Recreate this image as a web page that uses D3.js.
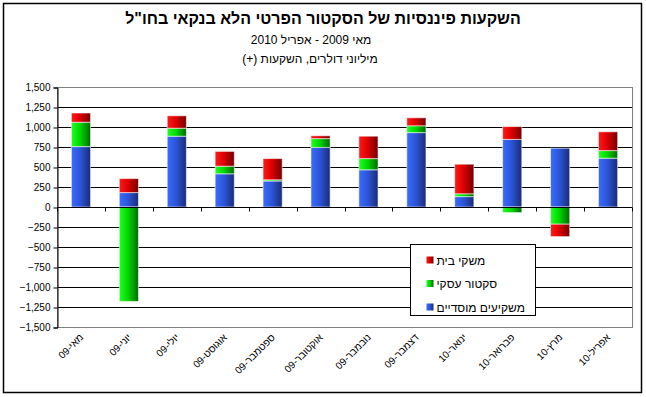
<!DOCTYPE html>
<html>
<head>
<meta charset="utf-8">
<script src="https://cdn.jsdelivr.net/npm/d3@7"></script>
<style>
  body { margin: 0; background: #fff; }
  svg { display: block; font-family: Arial, "Liberation Sans", "DejaVu Sans", sans-serif; }
</style>
</head>
<body>
<svg id="chart" width="646" height="397"></svg>
<script>
// Hebrew month labels, as on the chart's category axis
const MONTHS = ['מאי-09', 'יוני-09', 'יולי-09', 'אוגוסט-09', 'ספטמבר-09', 'אוקטובר-09',
                'נובמבר-09', 'דצמבר-09', 'ינואר-10', 'פברואר-10', 'מרץ-10', 'אפריל-10'];

// series, millions of dollars
const INSTITUTIONAL = [755, 180, 885, 415, 325, 745, 465, 930, 130, 845, 735, 610];
const BUSINESS      = [305, -1180, 100, 95, 15, 110, 140, 85, 35, -70, -215, 95];
const HOUSEHOLDS    = [115, 175, 155, 185, 265, 35, 280, 100, 370, 160, -155, 235];

const SERIES_KEYS = ['inst', 'biz', 'home'];
const SERIES_LABELS = { inst: 'משקיעים מוסדיים', biz: 'סקטור עסקי', home: 'משקי בית' };
const Y_TICKS = [-1500, -1250, -1000, -750, -500, -250, 0, 250, 500, 750, 1000, 1250, 1500];

const GRADS = {
  inst: ['#3a6cff', '#2c55d8', '#1a2c78'],
  biz:  ['#22ff22', '#00d800', '#006a00'],
  home: ['#ff1a1a', '#dd0000', '#740000'],
};

const svg = d3.select('#chart');
const plot = { left: 57, right: 632, top: 87, bottom: 327 };

// outer frame
svg.append('rect')
  .attr('x', 3.5).attr('y', 3.5).attr('width', 638).attr('height', 389)
  .attr('fill', '#fff').attr('stroke', '#000').attr('stroke-width', 1.5);

// titles (right-to-left reading order, like the source)
svg.append('text').attr('x', 323).attr('y', 24)
  .attr('text-anchor', 'middle').attr('direction', 'rtl')
  .attr('font-size', 16).attr('font-weight', 'bold')
  .text('השקעות פיננסיות של הסקטור הפרטי הלא בנקאי בחו"ל');
svg.append('text').attr('x', 311).attr('y', 44)
  .attr('text-anchor', 'middle').attr('direction', 'rtl').attr('font-size', 12)
  .text('מאי 2009 - אפריל 2010');
svg.append('text').attr('x', 310).attr('y', 63)
  .attr('text-anchor', 'middle').attr('direction', 'rtl').attr('font-size', 12)
  .text('מיליוני דולרים, השקעות (+)');

// gradients
const defs = svg.append('defs');
for (const k of SERIES_KEYS) {
  const g = defs.append('linearGradient').attr('id', 'g-' + k)
    .attr('x1', '0%').attr('x2', '100%').attr('y1', '0%').attr('y2', '0%');
  g.append('stop').attr('offset', '0%').attr('stop-color', GRADS[k][0]);
  g.append('stop').attr('offset', '45%').attr('stop-color', GRADS[k][1]);
  g.append('stop').attr('offset', '100%').attr('stop-color', GRADS[k][2]);
}

const x = d3.scaleBand().domain(MONTHS)
  .range([plot.left, plot.right]).paddingInner(0.6).paddingOuter(0.3);
const y = d3.scaleLinear().domain([-1500, 1500]).range([plot.bottom, plot.top]);

// gridlines
svg.append('g').selectAll('line').data(Y_TICKS.filter(v => Math.abs(v) !== 1500)).join('line')
  .attr('x1', plot.left).attr('x2', plot.right)
  .attr('y1', d => Math.round(y(d)) + 0.5).attr('y2', d => Math.round(y(d)) + 0.5)
  .attr('stroke', '#000').attr('stroke-width', 1);

// plot border (grey)
svg.append('rect')
  .attr('x', plot.left + 0.5).attr('y', plot.top + 0.5)
  .attr('width', plot.right - plot.left).attr('height', plot.bottom - plot.top)
  .attr('fill', 'none').attr('stroke', '#808080');

// y axis
const yAxis = d3.axisLeft(y).tickValues(Y_TICKS).tickSize(4).tickPadding(3)
  .tickFormat(d3.format(','));
const yG = svg.append('g').attr('transform', `translate(${plot.left + 0.5},0.5)`).call(yAxis);
yG.select('.domain').attr('stroke', '#000');
yG.selectAll('.tick line').attr('stroke', '#000');
yG.selectAll('text').attr('font-size', 10).attr('fill', '#000')
  .attr('font-family', 'Arial, "Liberation Sans", sans-serif');

// stacked bars (diverging around zero)
const rows = MONTHS.map((m, i) => ({ m, inst: INSTITUTIONAL[i], biz: BUSINESS[i], home: HOUSEHOLDS[i] }));
const stacked = d3.stack().keys(SERIES_KEYS).offset(d3.stackOffsetDiverging)(rows);

svg.append('g').selectAll('g').data(stacked).join('g')
  .attr('fill', d => `url(#g-${d.key})`)
  .selectAll('rect').data(d => d).join('rect')
  .attr('x', d => x(d.data.m))
  .attr('width', x.bandwidth())
  .attr('y', d => y(Math.max(d[0], d[1])))
  .attr('height', d => Math.abs(y(d[0]) - y(d[1])))
  .attr('stroke', 'rgba(255,255,255,0.55)').attr('stroke-width', 1);

// category axis along zero
const x0 = Math.round(y(0)) + 0.5;
svg.append('line').attr('x1', plot.left).attr('x2', plot.right)
  .attr('y1', x0).attr('y2', x0).attr('stroke', '#000');
const step = x.step();
const bounds = d3.range(MONTHS.length + 1).map(i => plot.left + i * step);
svg.append('g').selectAll('line').data(bounds).join('line')
  .attr('x1', d => Math.round(d) + 0.5).attr('x2', d => Math.round(d) + 0.5)
  .attr('y1', x0).attr('y2', x0 + 4).attr('stroke', '#000');

// rotated month labels below the plot
svg.append('g').selectAll('text').data(MONTHS).join('text')
  .attr('transform', d => `translate(${x(d) + x.bandwidth() / 2 + 3},${plot.bottom + 11}) rotate(-45)`)
  .attr('text-anchor', 'start')
  .attr('direction', 'rtl')
  .attr('font-size', 10)
  .text(d => d);

// legend
const lg = svg.append('g').attr('transform', 'translate(410.5,244.5)');
lg.append('rect').attr('width', 125).attr('height', 71)
  .attr('fill', '#fff').attr('stroke', '#000');
const legendKeys = ['home', 'biz', 'inst'];
legendKeys.forEach((k, i) => {
  const row = lg.append('g').attr('transform', `translate(0,${12 + i * 23.5})`);
  row.append('rect').attr('x', 16).attr('y', 0).attr('width', 7).attr('height', 7)
    .attr('fill', `url(#g-${k})`);
  row.append('text').attr('x', 26).attr('y', 8).attr('font-size', 12)
    .attr('text-anchor', 'end').attr('direction', 'rtl')
    .text(SERIES_LABELS[k]);
});
</script>
</body>
</html>
